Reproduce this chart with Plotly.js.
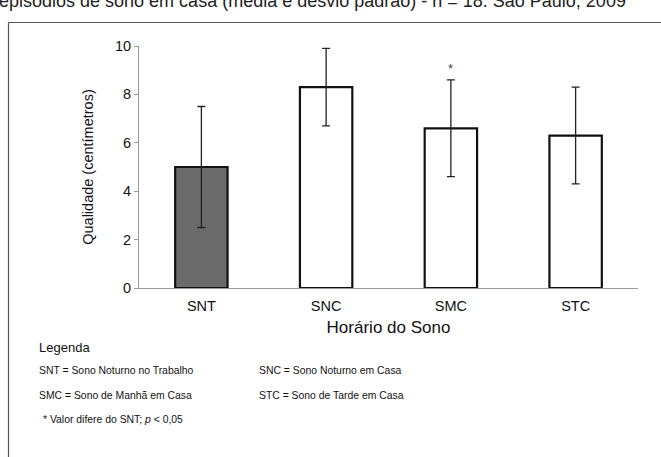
<!DOCTYPE html>
<html>
<head>
<meta charset="utf-8">
<script src="https://cdn.plot.ly/plotly-3.0.1.min.js"></script>
<style>html,body{margin:0;padding:0;background:#fff;}#chart{width:661px;height:457px;}</style>
</head>
<body>
<div id="chart"></div>
<script>
const categories = ['SNT', 'SNC', 'SMC', 'STC'];
const means = [5.0, 8.3, 6.6, 6.3];
const sds = [2.5, 1.6, 2.0, 2.0];
const significant = [false, false, true, false];
const fillColors = ['#6b6b6b', '#ffffff', '#ffffff', '#ffffff'];
const yTicks = [0, 2, 4, 6, 8, 10];
const legendLines = [
  ['SNT = Sono Noturno no Trabalho', 'SNC = Sono Noturno em Casa'],
  ['SMC = Sono de Manhã em Casa', 'STC = Sono de Tarde em Casa']
];

const W = 661, H = 457;
const M = {l: 139, r: 23, t: 46, b: 169};
const pw = W - M.l - M.r, ph = H - M.t - M.b;
const px = x => (x - M.l) / pw;
const py = y => (H - M.b - y) / ph;

const font = 'Liberation Sans, Arial, sans-serif';

const trace = {
  type: 'bar',
  x: categories,
  y: means,
  marker: {color: fillColors, line: {color: '#111', width: 2.2}},
  error_y: {type: 'data', array: sds, visible: true, color: '#222', thickness: 1.3, width: 4},
  hoverinfo: 'none'
};

const annotations = [];
categories.forEach((c, i) => {
  if (significant[i]) {
    annotations.push({x: c, y: means[i] + sds[i] + 0.45, xref: 'x', yref: 'y', text: '*',
      showarrow: false, font: {family: font, size: 13, color: '#444'}});
  }
});
annotations.push({x: px(-3), y: py(1), xref: 'paper', yref: 'paper', xanchor: 'left', yanchor: 'middle',
  text: 'episódios de sono em casa (média e desvio padrão) - n = 18. São Paulo, 2009',
  showarrow: false, font: {family: font, size: 18, color: '#222'}});
annotations.push({x: px(37), y: py(347), xref: 'paper', yref: 'paper', xanchor: 'left', yanchor: 'middle',
  text: 'Legenda', showarrow: false, font: {family: font, size: 13, color: '#111'}});
legendLines.forEach((row, r) => {
  row.forEach((t, k) => {
    annotations.push({x: px(k === 0 ? 37 : 257), y: py(370 + r * 25), xref: 'paper', yref: 'paper',
      xanchor: 'left', yanchor: 'middle', text: t, showarrow: false,
      font: {family: font, size: 10.4, color: '#111'}});
  });
});
annotations.push({x: px(41), y: py(419), xref: 'paper', yref: 'paper', xanchor: 'left', yanchor: 'middle',
  text: '* Valor difere do SNT; <i>p</i> < 0,05', showarrow: false,
  font: {family: font, size: 10.4, color: '#111'}});

const shapes = [
  {type: 'line', xref: 'paper', yref: 'paper', x0: px(8.5), x1: px(661), y0: py(22.5), y1: py(22.5),
    line: {color: '#555', width: 1.2}},
  {type: 'line', xref: 'paper', yref: 'paper', x0: px(8.5), x1: px(8.5), y0: py(22.5), y1: py(457),
    line: {color: '#555', width: 1.2}}
];

const layout = {
  width: W, height: H,
  margin: M,
  paper_bgcolor: '#fff', plot_bgcolor: '#fff',
  showlegend: false,
  bargap: 0.58,
  font: {family: font, color: '#111'},
  xaxis: {
    showline: true, linecolor: '#999', linewidth: 1, ticks: '', showgrid: false, zeroline: false,
    ticklabelstandoff: 5,
    tickfont: {family: font, size: 14.5, color: '#111'},
    title: {text: 'Horário do Sono', font: {family: font, size: 17, color: '#111'}, standoff: 7}
  },
  yaxis: {
    range: [0, 10], tickvals: yTicks, showline: true, linecolor: '#999', linewidth: 1,
    ticks: 'outside', ticklen: 4, tickcolor: '#999', showgrid: false, zeroline: false,
    tickfont: {family: font, size: 14.5, color: '#111'},
    title: {text: 'Qualidade (centímetros)', font: {family: font, size: 14.5, color: '#111'}, standoff: 17}
  },
  annotations: annotations,
  shapes: shapes
};

Plotly.newPlot('chart', [trace], layout, {displayModeBar: false, staticPlot: true});
</script>
</body>
</html>
